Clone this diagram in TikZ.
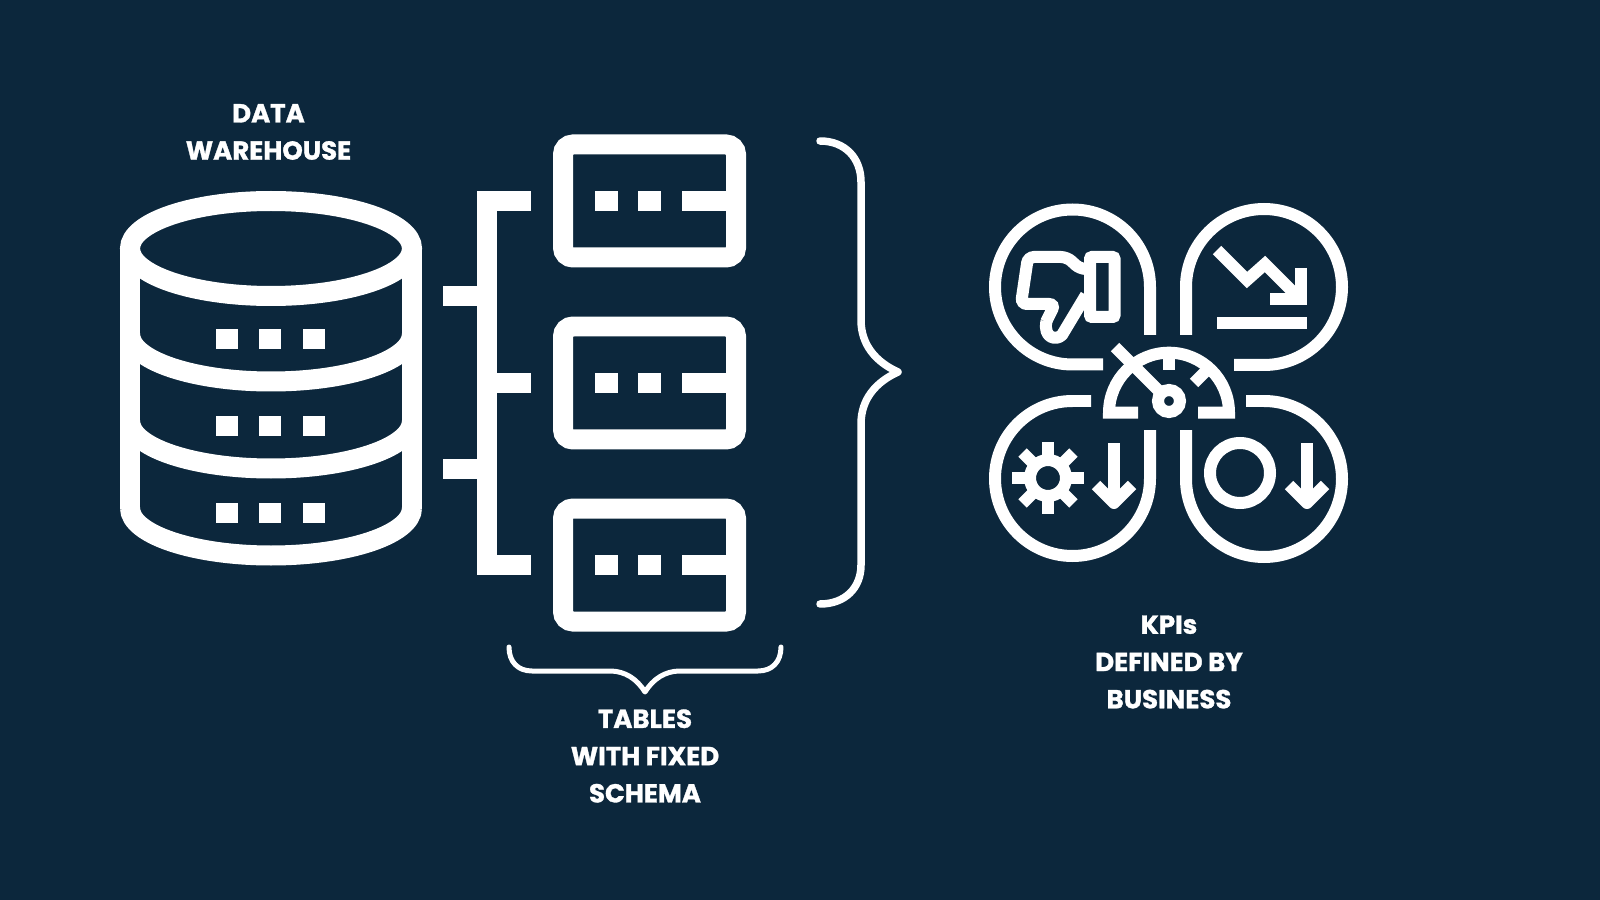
\documentclass[tikz,border=0pt]{standalone}
\usepackage{fontspec}
\setmainfont{Poppins}[BoldFeatures={FakeBold=1.2}]
\definecolor{navy}{RGB}{12,39,60}

\begin{document}
\begin{tikzpicture}[
                    x=0.1mm, y=-0.1mm,
                    every node/.style={align=center, text=white, font=\fontsize{7.4}{10.6}\selectfont\bfseries},
                    dbline/.style={draw=white, line width=2mm},
                    tablebox/.style={draw=white, line width=2mm, rounded corners=1mm, inner sep=0pt, minimum width=17.3mm, minimum height=11.3mm},
                    iconline/.style={draw=white, line width=1.2mm},
                    bracelarge/.style={draw=white, line width=0.75mm, line cap=round, line join=round},
                    bracesmall/.style={draw=white, line width=0.5mm, line cap=round, line join=round}
                ]

                \fill[navy] (0,0) rectangle (1600,900);
                \useasboundingbox (0,0) rectangle (1600,900);

                % Labels
                \node (warehouse) at (268.5,132) {DATA\\WAREHOUSE};
                \node (tables) at (645,756) {TABLES\\WITH FIXED\\SCHEMA};
                \node (kpis) at (1169,662) {KPIs\\DEFINED BY\\BUSINESS};

                % Cylinder
                \draw[dbline] (271,248.5) ellipse [x radius=141, y radius=47.5];
                \draw[dbline] (130,248.5) -- (130,508.5);
                \draw[dbline] (412,248.5) -- (412,508.5);
                \foreach \y in {334,421,508}
                    \draw[dbline] (130,\y) arc[start angle=180, end angle=0, x radius=141, y radius=47.5];
                \foreach \y in {329,416,503}
                    \foreach \x in {216,259,303}
                        \fill[white] (\x,\y) rectangle ++(22,20);

                % Tables
                \foreach \t/\y in {1/201,2/383,3/565} {
                    \node[tablebox] (table\t) at (649.5,\y) {};
                    \fill[white] (595,\y-10) rectangle (618,\y+10);
                    \fill[white] (638,\y-10) rectangle (661,\y+10);
                    \fill[white] (682,\y-10) rectangle (727,\y+10);
                }

                % Connectors
                \coordinate (trunktop) at (487,201);
                \coordinate (trunkmid) at (487,383);
                \coordinate (trunkbot) at (487,565);
                \coordinate (stub1) at (443,296.5);
                \coordinate (stub2) at (443,469);
                \draw[dbline] ([xshift=-2.2mm]table1.west) -- (trunktop) -- (trunkbot) -- ([xshift=-2.2mm]table3.west);
                \draw[dbline] (trunkmid) -- ([xshift=-2.2mm]table2.west);
                \draw[dbline] (stub1) -- (stub1 -| trunktop);
                \draw[dbline] (stub2) -- (stub2 -| trunktop);

                % Braces
                \draw[bracelarge] (820,141) .. controls (845,141) and (861,158) .. (861,182) -- (861,320)
                    .. controls (861,345) and (876,362) .. (898,372)
                    .. controls (876,382) and (861,399) .. (861,424) -- (861,565)
                    .. controls (861,588) and (845,604) .. (820,604);
                \draw[bracesmall] (509,647) .. controls (509,662) and (518,671) .. (532,671) -- (610,671)
                    .. controls (625,671) and (637,679) .. (645,692)
                    .. controls (653,679) and (665,671) .. (680,671) -- (758,671)
                    .. controls (772,671) and (781,662) .. (781,647);

                % Lobes
                \draw[iconline] (1150,335) -- (1150,287) arc[start angle=0, end angle=-270, radius=77.5] -- (1103,364.5);
                \draw[iconline] (1186,335) -- (1186,287) arc[start angle=180, end angle=450, radius=78] -- (1234,365);
                \draw[iconline] (1091,401) -- (1072.5,401) arc[start angle=-90, end angle=-360, radius=77.5] -- (1150,430);
                \draw[iconline] (1246,401) -- (1264,401) arc[start angle=-90, end angle=180, radius=78] -- (1186,430);

                % Gauge
                \draw[iconline] (1138,412.7) -- (1109,412.7) arc[start angle=180, end angle=360, radius=60] -- (1198,412.7);
                \draw[iconline] (1115,347) -- (1161,393);
                \draw[iconline] (1169,401) circle (11);
                \draw[iconline] (1169,355) -- (1169,370);
                \draw[iconline] (1208,369) -- (1194,383);

                % Thumb
                \draw[iconline, rounded corners=0.2mm] (1090,257) rectangle (1114.5,317);
                \draw[iconline, rounded corners=0.6mm] (1090,269) -- (1080,269) -- (1067,257) -- (1028,257) -- (1021,304) -- (1055,304) -- (1046,322);
                \draw[iconline, line join=round] (1046.5,321) .. controls (1043,338) and (1056,341) .. (1062,335) -- (1086,295);

                % Falling line
                \draw[iconline] (1217,250) -- (1247,280) -- (1265,264) -- (1300,299);
                \draw[iconline] (1301,268) -- (1301,299) -- (1270,299);
                \draw[iconline] (1217,323) -- (1307,323);

                % Gear
                \draw[iconline] (1048,478) circle (18);
                \foreach \a in {0,45,...,315}
                    \draw[iconline] (1048,478) ++(\a:22) -- ++(\a:14);

                % Circle and arrows
                \draw[iconline] (1240,473) circle (30);
                \foreach \x in {1114,1307} {
                    \draw[iconline] (\x,443) -- (\x,503);
                    \draw[iconline, line join=round] (\x-18,485) -- (\x,503) -- (\x+18,485);
                }

                \end{tikzpicture}
\end{document}
